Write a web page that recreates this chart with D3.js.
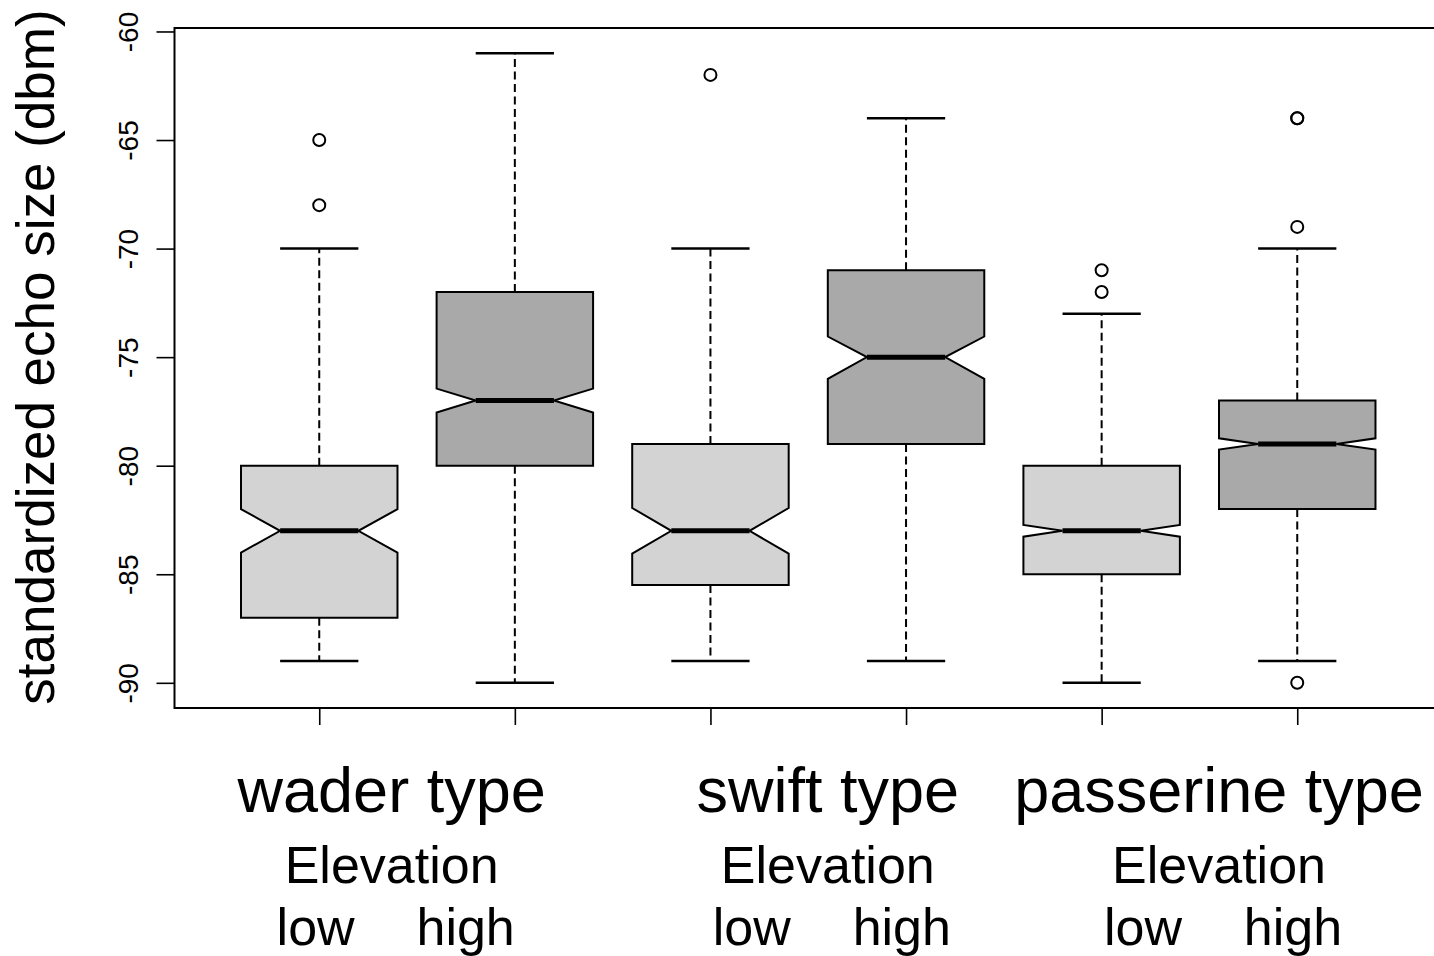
<!DOCTYPE html>
<html>
<head>
<meta charset="utf-8">
<script src="https://cdn.jsdelivr.net/npm/d3@7"></script>
<style>
  html, body { margin: 0; padding: 0; background: #fff; }
  svg { display: block; font-family: "Liberation Sans", Arial, sans-serif; }
</style>
</head>
<body>
<div id="chart"></div>
<script>
// data (one entry per box, in plot order)
const groups = ["wader type", "swift type", "passerine type"];
const elevations = ["low", "high"];
const lowerWhisker = [-89, -90, -89, -89, -90, -89];
const q1 = [-87, -80, -85.5, -79, -85, -82];
const medians = [-83, -77, -83, -75, -83, -79];
const q3 = [-80, -72, -79, -71, -80, -77];
const upperWhisker = [-70, -61, -70, -64, -73, -70];
const notchLow = [-84, -77.55, -84.05, -76, -83.27, -79.26];
const notchHigh = [-82, -76.45, -81.95, -74.05, -82.73, -78.74];
const outliers = [[-65, -68], [], [-62], [], [-71, -72], [-64, -64, -69, -90]];
const yTicks = [-90, -85, -80, -75, -70, -65, -60];
const yLabel = "standardized echo size (dbm)";
// where each group's label block sits, in box-index units
const labelPos = [1.37, 3.6, 5.6];

const fills = { low: "#d3d3d3", high: "#a9a9a9" };

document.addEventListener("DOMContentLoaded", function () {
  drawBoxplot();
});

function drawBoxplot() {
  const width = 1434, height = 956;
  const plot = { left: 174.5, top: 28, bottom: 708 };

  const svg = d3.select("#chart")
    .append("svg")
    .attr("width", width)
    .attr("height", height);

  const boxes = medians.map(function (m, i) {
    return {
      pos: i + 1,
      elev: elevations[i % 2],
      lw: lowerWhisker[i], q1: q1[i], med: m, q3: q3[i], uw: upperWhisker[i],
      nl: notchLow[i], nh: notchHigh[i], out: outliers[i]
    };
  });

  const x = d3.scaleLinear()
    .domain([0.26, 6.74])
    .range([plot.left, plot.left + 6.48 * 195.6]);

  const y = d3.scaleLinear()
    .domain([-91.16, -59.84])
    .range([plot.bottom, plot.top]);

  const hw = (x(1.4) - x(1)); // half box width (box width 0.8)

  // whiskers (dashed) and caps
  const wg = svg.append("g");
  boxes.forEach(function (d) {
    wg.append("line")
      .attr("x1", x(d.pos)).attr("x2", x(d.pos))
      .attr("y1", y(d.q3)).attr("y2", y(d.uw))
      .attr("stroke", "#000").attr("stroke-width", 2)
      .attr("stroke-dasharray", "8,4.5");
    wg.append("line")
      .attr("x1", x(d.pos)).attr("x2", x(d.pos))
      .attr("y1", y(d.q1)).attr("y2", y(d.lw))
      .attr("stroke", "#000").attr("stroke-width", 2)
      .attr("stroke-dasharray", "8,4.5");
    [d.uw, d.lw].forEach(function (v) {
      wg.append("line")
        .attr("x1", x(d.pos) - hw / 2).attr("x2", x(d.pos) + hw / 2)
        .attr("y1", y(v)).attr("y2", y(v))
        .attr("stroke", "#000").attr("stroke-width", 2.5);
    });
  });

  // notched boxes
  svg.selectAll(".box")
    .data(boxes)
    .enter()
    .append("path")
    .attr("class", "box")
    .attr("d", function (d) {
      const c = x(d.pos);
      const pts = [
        [c - hw, y(d.q3)], [c + hw, y(d.q3)], [c + hw, y(d.nh)],
        [c + hw / 2, y(d.med)], [c + hw, y(d.nl)], [c + hw, y(d.q1)],
        [c - hw, y(d.q1)], [c - hw, y(d.nl)], [c - hw / 2, y(d.med)],
        [c - hw, y(d.nh)]
      ];
      return "M" + pts.map(function (p) { return p.join(","); }).join("L") + "Z";
    })
    .attr("fill", function (d) { return fills[d.elev]; })
    .attr("stroke", "#000")
    .attr("stroke-width", 2)
    .attr("stroke-linejoin", "miter");

  // medians
  svg.selectAll(".median")
    .data(boxes)
    .enter()
    .append("line")
    .attr("x1", function (d) { return x(d.pos) - hw / 2; })
    .attr("x2", function (d) { return x(d.pos) + hw / 2; })
    .attr("y1", function (d) { return y(d.med); })
    .attr("y2", function (d) { return y(d.med); })
    .attr("stroke", "#000")
    .attr("stroke-width", 5);

  // outliers
  const outPts = [];
  boxes.forEach(function (d) {
    d.out.forEach(function (v) { outPts.push([d.pos, v]); });
  });
  svg.selectAll(".outlier")
    .data(outPts)
    .enter()
    .append("circle")
    .attr("cx", function (d) { return x(d[0]); })
    .attr("cy", function (d) { return y(d[1]); })
    .attr("r", 6)
    .attr("fill", "none")
    .attr("stroke", "#000")
    .attr("stroke-width", 2);

  // frame
  svg.append("rect")
    .attr("x", x.range()[0])
    .attr("y", plot.top)
    .attr("width", x.range()[1] - x.range()[0])
    .attr("height", plot.bottom - plot.top)
    .attr("fill", "none")
    .attr("stroke", "#000")
    .attr("stroke-width", 2);

  // y axis
  const yAxis = svg.append("g")
    .attr("transform", "translate(" + x.range()[0] + ",0)")
    .call(d3.axisLeft(y).tickValues(yTicks).tickSize(18).tickFormat(d3.format("d")));
  yAxis.select(".domain").remove();
  yAxis.selectAll("line").attr("stroke-width", 1.6);
  yAxis.selectAll("text")
    .attr("transform", "rotate(-90)")
    .attr("x", 0)
    .attr("y", -37)
    .attr("dy", 0)
    .attr("text-anchor", "middle")
    .style("font-size", "28px")
    .style("font-family", "'Liberation Sans', Arial, sans-serif")
    .attr("fill", "#000")
    .text(function (d) { return d; });

  // x axis ticks only
  const xAxis = svg.append("g")
    .attr("transform", "translate(0," + plot.bottom + ")")
    .call(d3.axisBottom(x).tickValues(boxes.map(function (d) { return d.pos; }))
      .tickSize(17).tickFormat(""));
  xAxis.select(".domain").remove();
  xAxis.selectAll("line").attr("stroke-width", 1.6);

  // y label
  svg.append("text")
    .attr("transform", "translate(53.5,357) rotate(-90)")
    .attr("text-anchor", "middle")
    .style("font-size", "53px")
    .attr("fill", "#000")
    .text(yLabel);

  // group labels below the axis
  const lg = svg.selectAll(".glabel")
    .data(groups)
    .enter()
    .append("g")
    .attr("class", "glabel")
    .attr("transform", function (d, i) { return "translate(" + x(labelPos[i]) + ",0)"; });

  lg.append("text")
    .attr("y", 812)
    .attr("text-anchor", "middle")
    .style("font-size", "63px")
    .text(function (d) { return d; });

  lg.append("text")
    .attr("y", 883)
    .attr("text-anchor", "middle")
    .style("font-size", "52px")
    .text("Elevation");

  elevations.forEach(function (e, j) {
    lg.append("text")
      .attr("x", j === 0 ? -76 : 74)
      .attr("y", 945)
      .attr("text-anchor", "middle")
      .style("font-size", "52px")
      .text(e);
  });
}
</script>
</body>
</html>
